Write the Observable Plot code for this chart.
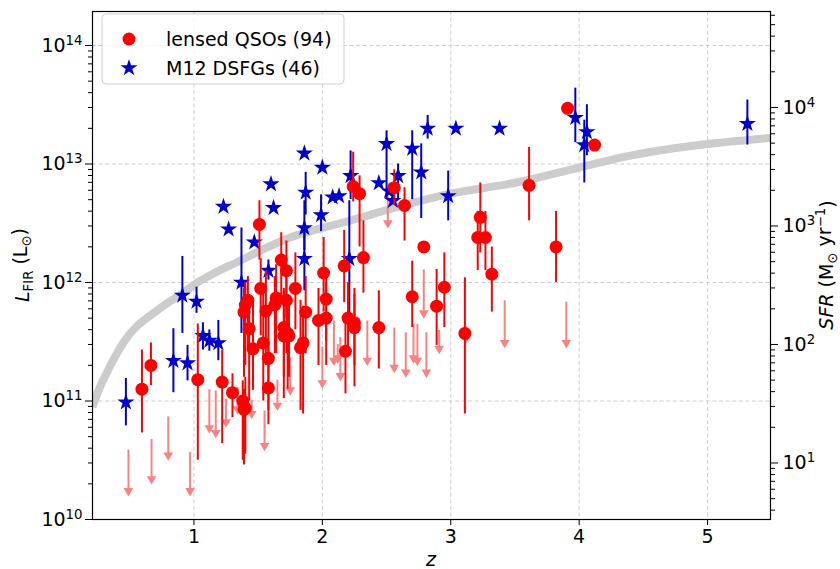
<!DOCTYPE html>
<html><head><meta charset="utf-8">
<script src="https://cdn.jsdelivr.net/npm/d3@7"></script>
<script src="https://cdn.jsdelivr.net/npm/@observablehq/plot@0.6"></script>
<style>
body{margin:0;background:#fff}
svg{font-family:"DejaVu Sans",sans-serif}
</style>
</head><body><div id="chart"></div>
<script>
// ---- data (log10 of L_FIR in L_sun) ----
const qsoZ = [0.595,0.665,1.03,1.22,1.30,1.38,1.39,1.46,1.54,1.58,1.58,1.70,1.74,1.83,1.51,1.68,1.72,1.52,1.64,1.79,1.42,1.72,1.40,1.39,1.43,1.70,1.73,1.87,1.97,1.40,1.63,1.56,2.24,2.29,2.56,2.64,2.79,3.61,3.23,3.21,3.27,3.32,2.32,2.01,2.17,2.03,2.03,2.70,2.95,2.89,2.44,3.11,2.20,2.25,2.25,2.18,1.85,3.82,3.91,4.12];
const qsoLogL = [11.10,11.30,11.18,11.16,11.07,11.00,10.93,11.44,11.49,11.36,11.11,11.55,11.55,11.45,12.49,12.19,12.10,11.95,11.87,11.95,11.85,11.85,11.81,11.75,11.61,11.62,11.57,11.75,11.68,10.94,11.81,11.76,12.81,12.75,12.80,12.65,12.30,12.82,12.55,12.38,12.38,12.07,12.21,12.08,12.14,11.86,11.70,11.88,11.96,11.80,11.62,11.57,11.70,11.66,11.62,11.42,11.49,12.30,13.47,13.16];
const qsoHi = [11.43,11.49,11.65,11.43,11.23,11.17,11.10,11.85,11.90,11.80,11.50,11.93,11.85,11.85,12.69,12.42,12.35,12.20,12.15,12.25,12.05,12.10,12.00,11.95,11.85,11.95,11.80,12.05,11.95,11.20,12.05,12.10,13.10,12.90,12.95,12.80,null,13.14,12.84,12.60,12.60,12.30,12.52,12.38,12.44,12.10,12.00,12.18,12.25,12.11,11.93,12.04,12.00,11.95,11.90,11.68,11.80,12.60,null,null];
const qsoLo = [10.73,11.13,10.50,10.64,10.86,10.50,10.46,11.09,11.00,10.92,10.80,11.02,11.20,10.92,12.19,11.85,11.70,11.55,11.40,11.60,11.45,11.40,11.30,11.20,11.00,11.20,11.10,11.40,11.30,10.55,11.40,11.30,12.68,12.30,12.65,12.35,null,12.52,12.25,12.10,12.10,11.75,11.91,11.75,11.83,11.50,11.30,11.62,11.62,11.47,11.27,10.89,11.40,11.30,11.12,11.06,10.89,12.00,null,null];

const ulZ = [0.49,0.67,0.80,0.97,1.12,1.17,1.25,1.34,1.45,1.55,1.65,1.75,2.00,2.09,2.12,2.14,2.35,2.51,2.56,2.65,2.71,2.74,2.79,2.81,2.91,3.12,3.42,3.90];
const ulTop = [10.56,10.65,10.84,10.54,11.07,11.06,10.99,11.09,10.98,10.89,11.15,11.34,11.43,11.65,11.45,11.51,11.65,12.70,11.59,11.55,11.62,11.62,12.08,11.55,11.57,11.60,11.82,11.81];
const ulTip = [10.20,10.30,10.50,10.20,10.73,10.69,10.78,10.89,10.85,10.58,10.92,11.05,11.11,11.30,11.32,11.17,11.30,12.46,11.24,11.20,11.32,11.30,11.70,11.20,11.40,11.49,11.45,11.45];

const dsfgZ = [0.47,0.84,0.95,0.91,1.02,1.07,1.12,1.19,1.23,1.27,1.47,1.37,1.58,1.60,1.62,1.87,1.86,2.00,1.86,1.86,1.99,2.08,2.13,2.22,2.50,2.44,2.59,2.70,2.77,2.82,3.04,3.38,2.98,3.97,4.06,4.04,5.31,2.21,2.52,2.55];
const dsfgLogL = [10.99,11.34,11.32,11.89,11.84,11.55,11.51,11.49,12.64,12.45,12.34,12.00,12.10,12.83,12.63,12.76,13.09,12.97,12.46,12.20,12.57,12.72,12.73,12.90,13.17,12.84,12.90,13.13,12.93,13.30,13.30,13.30,12.73,13.39,13.27,13.16,13.34,12.20,12.77,12.69];
const dsfgHi = [11.19,11.61,11.47,12.22,11.96,11.66,11.60,11.68,null,null,null,12.46,12.19,null,null,12.93,null,null,12.69,12.44,12.74,null,null,13.11,13.28,null,13.00,13.28,13.17,13.41,null,null,12.94,13.64,13.50,13.37,13.54,12.69,null,null];
const dsfgLo = [10.79,11.07,11.17,11.57,11.74,11.43,11.42,11.34,null,null,null,11.57,12.02,null,null,12.57,null,null,12.27,11.93,12.43,null,null,12.70,12.70,null,12.70,12.70,12.54,13.21,null,null,12.52,13.18,13.07,12.84,13.16,11.74,null,null];

const limitZ = [0.21,0.25,0.35,0.455,0.72,0.91,1.0,1.37,1.75,2.14,3.0,3.54,4.0,4.35,5.49];
const limitLogL = [10.95,11.07,11.30,11.50,11.77,11.91,11.98,12.19,12.38,12.50,12.75,12.85,12.97,13.06,13.22];

const xTicks = [1,2,3,4,5];
const yTickExp = [10,11,12,13,14];
const sfrTickExp = [1,2,3,4];
const SFR_LOG_OFFSET = 9.477; // log10(L_FIR / SFR)
const legendLabels = ["lensed QSOs (94)", "M12 DSFGs (46)"];

// ---- build tables ----
const P = v => v == null ? null : Math.pow(10, v);
const qso = qsoZ.map((z,i)=>({z, L:P(qsoLogL[i]), hi:P(qsoHi[i]), lo:P(qsoLo[i])}));
const ul = ulZ.map((z,i)=>({z, top:P(ulTop[i]), tip:P(ulTip[i])}));
const dsfg = dsfgZ.map((z,i)=>({z, L:P(dsfgLogL[i]), hi:P(dsfgHi[i]), lo:P(dsfgLo[i])}));
const limit = limitZ.map((z,i)=>({z, L:P(limitLogL[i])}));

const X_DOMAIN = [0.21,5.49];
const yMax = Math.pow(10, 14.287);
const yMajor = yTickExp.map(e=>Math.pow(10,e));
const yMinor = [];
for (let e=10;e<=14;e++) for (let m=2;m<=9;m++){const v=m*Math.pow(10,e); if(v<=yMax) yMinor.push(v);}
const sfrMajor = sfrTickExp.map(e=>({L:Math.pow(10,e+SFR_LOG_OFFSET), label:"10^"+e}));
const sfrMinor = [];
for (let e=0;e<=4;e++) for (let m=2;m<=9;m++){const lv=Math.log10(m)+e+SFR_LOG_OFFSET; if(lv>10 && lv<Math.log10(yMax)) sfrMinor.push(Math.pow(10,lv));}

const RED="#ff0000", BLUE="#0000cd", PINK="#ff8080", GRAY="#cccccc";

const chart = Plot.plot({
  width:840, height:569,
  marginLeft:92, marginRight:70, marginTop:11, marginBottom:50,
  style:{fontFamily:"DejaVu Sans, sans-serif", fontSize:"19px", color:"black", background:"white"},
  x:{domain:X_DOMAIN},
  y:{type:"log", domain:[1e10, yMax]},
  marks:[
    Plot.gridX(xTicks,{stroke:"#c8c8c8", strokeOpacity:1, strokeDasharray:"4,2.6", strokeWidth:0.9}),
    Plot.gridY(yMajor,{stroke:"#c8c8c8", strokeOpacity:1, strokeDasharray:"4,2.6", strokeWidth:0.9}),
    Plot.line(limit,{x:"z", y:"L", stroke:GRAY, strokeWidth:8, curve:"monotone-x", strokeLinecap:"butt", clip:true}),
    Plot.ruleX(ul,{x:"z", y1:"tip", y2:"top", stroke:PINK, strokeWidth:2, dy:-3}),
    Plot.dot(ul,{x:"z", y:"tip", symbol:"triangle", rotate:180, r:3.6, fill:PINK, stroke:"none", dy:-5}),
    Plot.ruleX(dsfg.filter(d=>d.hi!=null),{x:"z", y1:"lo", y2:"hi", stroke:BLUE, strokeWidth:2}),
    Plot.dot(dsfg,{x:"z", y:"L", symbol:"star", r:5.4, fill:BLUE, stroke:"none"}),
    Plot.ruleX(qso.filter(d=>d.hi!=null),{x:"z", y1:"lo", y2:"hi", stroke:RED, strokeWidth:2}),
    Plot.dot(qso,{x:"z", y:"L", r:6.5, fill:RED, stroke:"none"}),
    Plot.frame({stroke:"black", strokeWidth:1.2}),
    Plot.axisX({ticks:xTicks, tickSize:6, tickPadding:4, label:null, tickFormat:d=>String(d)}),
    Plot.axisY({ticks:yMajor, tickSize:7, tickPadding:3, label:null, tickFormat:d=>"10^"+Math.round(Math.log10(d))}),
    Plot.axisY({ticks:yMinor, tickSize:4, label:null, tickFormat:()=>""}),
    Plot.axisY({anchor:"right", ticks:sfrMajor.map(d=>d.L), tickSize:7, label:null, tickFormat:()=>""}),
    Plot.axisY({anchor:"right", ticks:sfrMinor, tickSize:4, label:null, tickFormat:()=>""}),
    Plot.text(sfrMajor,{x:()=>X_DOMAIN[1], y:"L", text:"label", textAnchor:"start", dx:12, fill:"black", fontSize:19})
  ]
});
document.getElementById("chart").appendChild(chart);

const svg = d3.select(chart);
// superscripts for tick labels
svg.selectAll("text").each(function(){
  const t=d3.select(this); const s=t.text(); const m=/^10\^(-?\d+)$/.exec(s);
  if(!m) return;
  t.text("");
  t.append("tspan").text("10");
  t.append("tspan").attr("dy","-0.5em").attr("font-size","0.7em").text(m[1]);
});

// axis titles
const yl = svg.append("text").attr("transform","translate(29,265) rotate(-90)").attr("text-anchor","middle").attr("font-size",19);
yl.append("tspan").attr("font-style","italic").text("L");
yl.append("tspan").attr("font-size","0.7em").attr("dy","0.3em").text("FIR");
yl.append("tspan").attr("dy","-0.3em").text(" (L");
yl.append("tspan").attr("font-size","0.7em").attr("dy","0.3em").text("⊙");
yl.append("tspan").attr("dy","-0.3em").text(")");

const rl = svg.append("text").attr("transform","translate(833,265) rotate(-90)").attr("text-anchor","middle").attr("font-size",19);
rl.append("tspan").attr("font-style","italic").text("SFR");
rl.append("tspan").text(" (M");
rl.append("tspan").attr("font-size","0.7em").attr("dy","0.3em").text("⊙");
rl.append("tspan").attr("dy","-0.3em").text(" yr");
rl.append("tspan").attr("font-size","0.7em").attr("dy","-0.5em").text("−1");
rl.append("tspan").attr("dy","0.5em").text(")");

svg.append("text").attr("x",431).attr("y",566).attr("text-anchor","middle").attr("font-size",19).attr("font-style","italic").text("z");

// legend
const lg = svg.append("g").attr("text-anchor","start");
lg.append("rect").attr("x",102).attr("y",14).attr("width",242).attr("height",70).attr("rx",4)
  .attr("fill","white").attr("fill-opacity",0.8).attr("stroke","#d0d0d0");
lg.append("circle").attr("cx",129).attr("cy",39).attr("r",6.5).attr("fill",RED);
lg.append("path").attr("d",d3.symbol(d3.symbolStar, Math.PI*5.4*5.4)()).attr("transform","translate(129,68)").attr("fill",BLUE);
lg.append("text").attr("x",166).attr("y",46).attr("font-size",19).attr("text-anchor","start").text(legendLabels[0]);
lg.append("text").attr("x",166).attr("y",75).attr("font-size",19).attr("text-anchor","start").text(legendLabels[1]);
</script>
</body></html>
